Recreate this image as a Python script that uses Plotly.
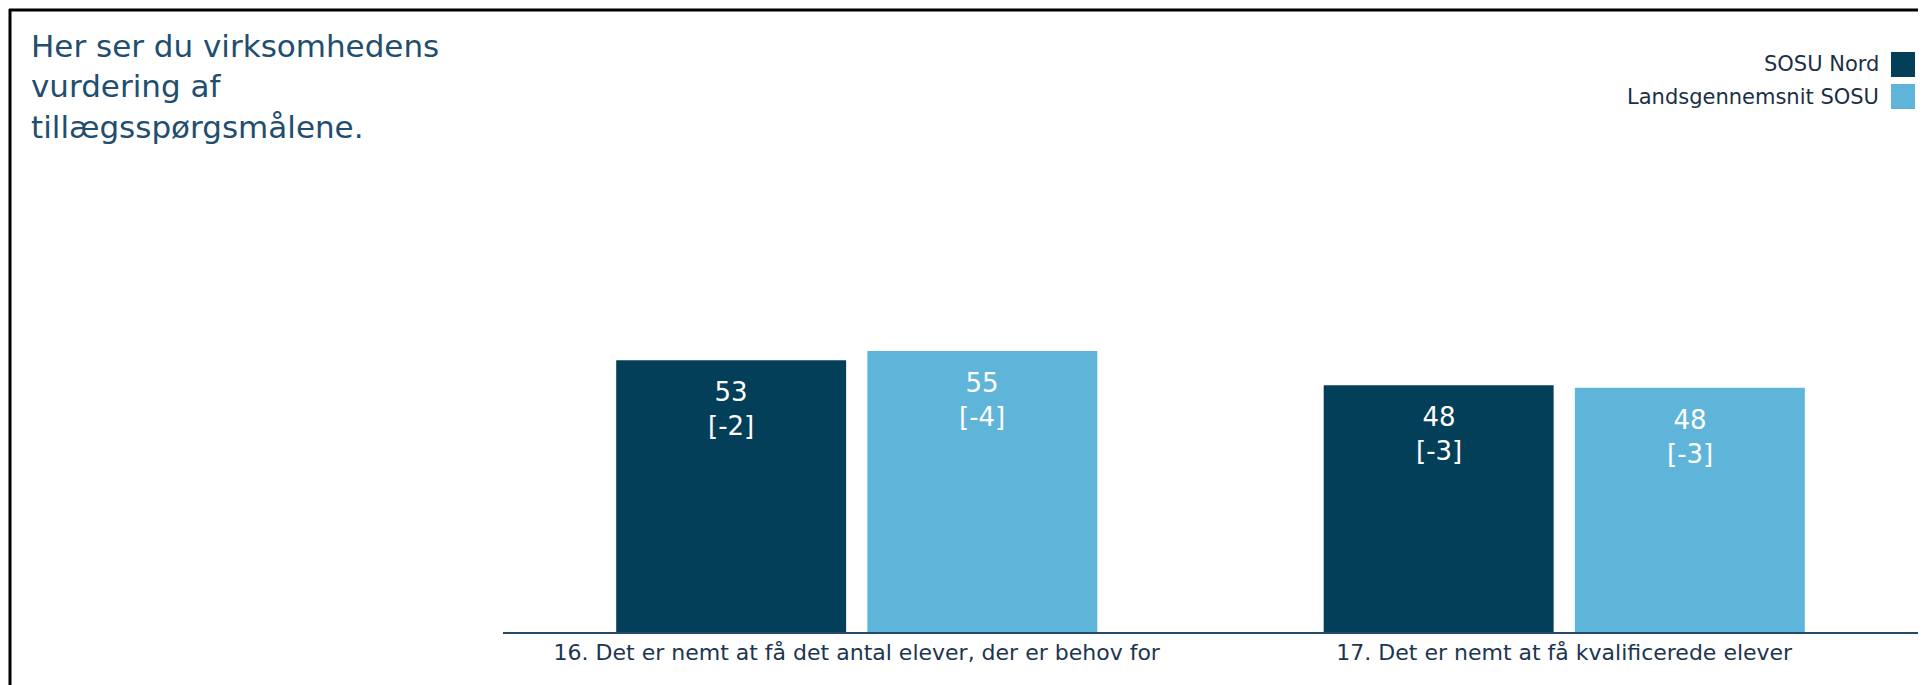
import plotly.graph_objects as go

categories = ["16. Det er nemt at få det antal elever, der er behov for",
              "17. Det er nemt at få kvalificerede elever"]
series_names = ["SOSU Nord", "Landsgennemsnit SOSU"]
nord = [53.1, 48.2]
nord_diff = [-2, -3]
lands = [54.9, 47.7]
lands_diff = [-4, -3]

colors = ["#033f58", "#5fb4da"]
font = "DejaVu Sans"

W, H = 1926, 685
OFF = 8  # page body margin shifts the figure
L, R, T, B = 503 - OFF, 16, 120 - OFF, 61


def px(x):
    return (x - OFF - L) / (W - L - R)


def py(y):
    return (H - B - (y - OFF)) / (H - T - B)


bar_w = 0.325
offsets = [-0.34, 0.015]

fig = go.Figure()
for vals, diffs, name, color, off in zip([nord, lands], [nord_diff, lands_diff],
                                         series_names, colors, offsets):
    fig.add_trace(go.Bar(x=categories, y=vals, name=name, marker_color=color,
                         marker_line_width=0, width=bar_w, offset=off,
                         showlegend=False, hoverinfo="skip"))
    for i, (v, d) in enumerate(zip(vals, diffs)):
        fig.add_annotation(x=i + off + bar_w / 2, y=v, xref="x", yref="y",
                           text=f"{round(v)}<br>[{d}]", showarrow=False,
                           yanchor="top", yshift=-15,
                           font=dict(family=font, size=26, color="white"))

# title
fig.add_annotation(x=px(29), y=py(26), xref="paper", yref="paper",
                   xanchor="left", yanchor="top", align="left", showarrow=False,
                   text="Her ser du virksomhedens<br>vurdering af<br>tillægsspørgsmålene.",
                   font=dict(family=font, size=31, color="#1f4e6e"))

# legend (text left of the colour box)
for name, color, yc, top in zip(series_names, colors, [64, 97], [52, 84]):
    fig.add_annotation(x=px(1881), y=py(yc), xref="paper", yref="paper",
                       xanchor="right", yanchor="middle", showarrow=False,
                       text=name, font=dict(family=font, size=21, color="#1b2f45"))
    fig.add_shape(type="rect", xref="paper", yref="paper",
                  x0=px(1891), x1=px(1915), y0=py(top), y1=py(top + 25),
                  fillcolor=color, line_width=0)

# frame
fig.add_shape(type="line", xref="paper", yref="paper",
              x0=px(10), x1=px(10), y0=py(9), y1=py(H + 20),
              line=dict(color="black", width=3))
fig.add_shape(type="line", xref="paper", yref="paper",
              x0=px(9), x1=px(W + 20), y0=py(10), y1=py(10),
              line=dict(color="black", width=3))

fig.update_layout(
    width=W, height=H,
    margin=dict(l=L, r=R, t=T, b=B),
    paper_bgcolor="white", plot_bgcolor="white",
    barmode="group",
    xaxis=dict(range=[-0.5, 1.5], showline=True, linecolor="#25496a", linewidth=2,
               showgrid=False, ticks="", zeroline=False,
               tickfont=dict(family=font, size=22, color="#1c3650")),
    yaxis=dict(range=[0, 100], visible=False, showgrid=False),
)

fig.write_html("out.html")
